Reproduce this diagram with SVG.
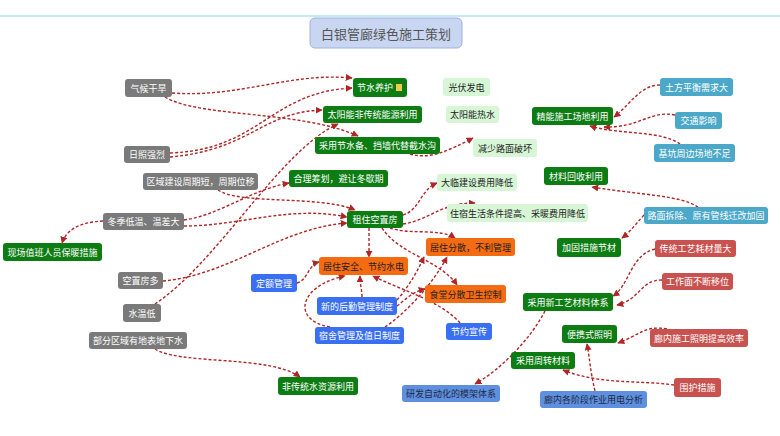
<svg xmlns="http://www.w3.org/2000/svg" width="780" height="436" viewBox="0 0 780 436">
<style>
text{font-family:"Noto Sans CJK SC","Noto Sans",sans-serif;font-size:9px;text-anchor:middle;dominant-baseline:central}
.g rect{fill:#7a7a7a}.g text{fill:#fff}
.dg rect{fill:#0d7d13}.dg text{fill:#fff}
.lg rect{fill:#d6f6d6}.lg text{fill:#222}
.tl rect{fill:#4ba8c8}.tl text{fill:#fff}
.rd rect{fill:#c8524f}.rd text{fill:#fff}
.or rect{fill:#f56b12}.or text{fill:#222}
.bl rect{fill:#3b6ff2}.bl text{fill:#fff}
.lb rect{fill:#5f90df}.lb text{fill:#1e2a44}
#connectors path{fill:none;stroke:#b02626;stroke-width:1.4;stroke-dasharray:3 2;marker-end:url(#ah)}
</style>
<defs>
<marker id="ah" viewBox="0 0 10 10" refX="9" refY="5" markerWidth="7" markerHeight="7" markerUnits="userSpaceOnUse" orient="auto">
<path d="M0,0 L10,5 L0,10 z" fill="#b02626"/>
</marker>
</defs>
<rect width="780" height="436" fill="#fff"/>
<line x1="0" y1="16" x2="780" y2="16" stroke="#8fd3e0" stroke-width="1"/>
<g id="title">
<rect x="310" y="18" width="152" height="30" rx="5" fill="#c9d6f2" stroke="#9eb2df"/>
<text x="386" y="33" style="font-size:13px;fill:#555">白银管廊绿色施工策划</text>
</g>
<g id="connectors">
<path d="M172,93 C240,98 290,72 352,78"/>
<path d="M165,97 C200,118 300,110 358,136"/>
<path d="M170,153 C260,150 270,92 352,88"/>
<path d="M170,157 C250,150 262,112 322,110"/>
<path d="M155,304 C220,260 280,150 338,124"/>
<path d="M218,190 C240,205 320,195 355,210"/>
<path d="M184,220 C220,215 250,190 289,183"/>
<path d="M184,226 C240,226 290,205 347,217"/>
<path d="M163,281 C230,275 280,228 347,223"/>
<path d="M103,221 C80,222 66,230 62,243"/>
<path d="M155,349 C180,365 270,355 300,377"/>
<path d="M403,215 C420,210 420,190 437,183"/>
<path d="M403,224 C430,220 440,203 475,203"/>
<path d="M390,228 C410,235 440,228 455,238"/>
<path d="M369,228 L369,257"/>
<path d="M382,228 C400,255 440,260 457,285"/>
<path d="M297,283 C308,280 308,265 319,262"/>
<path d="M362,297 C362,290 360,285 360,276"/>
<path d="M330,327 C290,320 300,285 345,276"/>
<path d="M460,323 C440,300 400,290 373,276"/>
<path d="M397,300 C410,285 418,270 424,257"/>
<path d="M385,327 C410,310 435,280 447,257"/>
<path d="M397,306 C405,300 412,292 425,289"/>
<path d="M410,154 C430,160 450,150 473,138"/>
<path d="M660,85 C640,85 630,105 614,117"/>
<path d="M675,115 C650,110 640,128 604,127"/>
<path d="M680,144 C660,130 620,135 590,126"/>
<path d="M698,207 C680,195 640,195 592,187"/>
<path d="M644,215 C635,225 630,232 622,238"/>
<path d="M655,249 C630,255 630,285 613,296"/>
<path d="M662,280 C640,280 640,300 617,305"/>
<path d="M667,329 C645,325 640,335 618,343"/>
<path d="M674,385 C640,380 600,385 563,370"/>
<path d="M595,391 C590,370 590,360 587,344"/>
<path d="M545,311 C530,340 500,370 475,384"/>
</g>
<g id="g1" class="g"><rect x="125" y="79" width="47" height="18" rx="3"/><text x="148.5" y="88">气候干旱</text></g>
<g id="g2" class="g"><rect x="124" y="146" width="46" height="17" rx="3"/><text x="147" y="154.5">日照强烈</text></g>
<g id="g3" class="g"><rect x="143" y="173" width="115" height="17" rx="3"/><text x="200.5" y="181.5">区域建设周期短，周期位移</text></g>
<g id="g4" class="g"><rect x="103" y="213" width="81" height="17" rx="3"/><text x="143.5" y="221.5">冬季低温、温差大</text></g>
<g id="g5" class="g"><rect x="118" y="272" width="45" height="17" rx="3"/><text x="140.5" y="280.5">空置房多</text></g>
<g id="g6" class="g"><rect x="123" y="304" width="38" height="18" rx="3"/><text x="142" y="313">水温低</text></g>
<g id="g7" class="g"><rect x="89" y="332" width="98" height="17" rx="3"/><text x="138" y="340.5">部分区域有地表地下水</text></g>
<g id="n1" class="dg"><rect x="3" y="243" width="99" height="18" rx="3"/><text x="52.5" y="252">现场值班人员保暖措施</text></g>
<g id="n2" class="dg"><rect x="353" y="78" width="54" height="19" rx="3"/><text x="375" y="87.5">节水养护</text><rect x="396" y="84" width="6" height="7" fill="#f2c94c" style="fill:#f2c94c"/></g>
<g id="n3" class="dg"><rect x="323" y="106" width="99" height="17" rx="3"/><text x="372.5" y="114.5">太阳能非传统能源利用</text></g>
<g id="n4" class="dg"><rect x="315" y="137" width="125" height="17" rx="3"/><text x="377.5" y="145.5">采用节水备、挡墙代替截水沟</text></g>
<g id="n5" class="dg"><rect x="289" y="170" width="99" height="17" rx="3"/><text x="338.5" y="178.5">合理筹划，避让冬歇期</text></g>
<g id="n6" class="dg"><rect x="347" y="211" width="56" height="17" rx="3"/><text x="375" y="219.5">租住空置房</text></g>
<g id="n7" class="dg"><rect x="532" y="107" width="81" height="18" rx="3"/><text x="572.5" y="116">精能施工场地利用</text></g>
<g id="n8" class="dg"><rect x="544" y="167" width="64" height="18" rx="3"/><text x="576" y="176">材料回收利用</text></g>
<g id="n9" class="dg"><rect x="557" y="238" width="64" height="19" rx="3"/><text x="589" y="247.5">加固措施节材</text></g>
<g id="n10" class="dg"><rect x="523" y="293" width="90" height="18" rx="3"/><text x="568" y="302">采用新工艺材料体系</text></g>
<g id="n11" class="dg"><rect x="562" y="325" width="55" height="18" rx="3"/><text x="589.5" y="334">便携式照明</text></g>
<g id="n12" class="dg"><rect x="511" y="352" width="64" height="17" rx="3"/><text x="543" y="360.5">采用周转材料</text></g>
<g id="n13" class="dg"><rect x="278" y="377" width="80" height="18" rx="3"/><text x="318" y="386">非传统水资源利用</text></g>
<g id="l1" class="lg"><rect x="443" y="78" width="47" height="18" rx="3"/><text x="466.5" y="87">光伏发电</text></g>
<g id="l2" class="lg"><rect x="446" y="106" width="53" height="17" rx="3"/><text x="472.5" y="114.5">太阳能热水</text></g>
<g id="l3" class="lg"><rect x="473" y="139" width="64" height="18" rx="3"/><text x="505" y="148">减少路面破坏</text></g>
<g id="l4" class="lg"><rect x="437" y="174" width="80" height="17" rx="3"/><text x="477" y="182.5">大临建设费用降低</text></g>
<g id="l5" class="lg"><rect x="447" y="204" width="141" height="18" rx="3"/><text x="517.5" y="213">住宿生活条件提高、采暖费用降低</text></g>
<g id="t1" class="tl"><rect x="660" y="78" width="73" height="18" rx="3"/><text x="696.5" y="87">土方平衡需求大</text></g>
<g id="t2" class="tl"><rect x="675" y="112" width="47" height="17" rx="3"/><text x="698.5" y="120.5">交通影响</text></g>
<g id="t3" class="tl"><rect x="654" y="144" width="81" height="18" rx="3"/><text x="694.5" y="153">基坑周边场地不足</text></g>
<g id="t4" class="tl"><rect x="644" y="207" width="124" height="17" rx="3"/><text x="706" y="215.5">路面拆除、原有管线迁改加固</text></g>
<g id="r1" class="rd"><rect x="655" y="240" width="81" height="17" rx="3"/><text x="695.5" y="248.5">传统工艺耗材量大</text></g>
<g id="r2" class="rd"><rect x="662" y="273" width="71" height="17" rx="3"/><text x="697.5" y="281.5">工作面不断移位</text></g>
<g id="r3" class="rd"><rect x="650" y="329" width="98" height="18" rx="3"/><text x="699" y="338">廊内施工照明提高效率</text></g>
<g id="r4" class="rd"><rect x="674" y="378" width="47" height="19" rx="3"/><text x="697.5" y="387.5">围护措施</text></g>
<g id="o1" class="or"><rect x="426" y="238" width="89" height="18" rx="3"/><text x="470.5" y="247">居住分散，不利管理</text></g>
<g id="o2" class="or"><rect x="319" y="257" width="89" height="18" rx="3"/><text x="363.5" y="266">居住安全、节约水电</text></g>
<g id="o3" class="or"><rect x="425" y="285" width="81" height="18" rx="3"/><text x="465.5" y="294">食堂分散卫生控制</text></g>
<g id="b1" class="bl"><rect x="251" y="274" width="46" height="18" rx="3"/><text x="274" y="283">定额管理</text></g>
<g id="b2" class="bl"><rect x="317" y="297" width="80" height="18" rx="3"/><text x="357" y="306">新的后勤管理制度</text></g>
<g id="b3" class="bl"><rect x="315" y="327" width="89" height="17" rx="3"/><text x="359.5" y="335.5">宿舍管理及值日制度</text></g>
<g id="b4" class="bl"><rect x="446" y="323" width="46" height="17" rx="3"/><text x="469" y="331.5">节约宣传</text></g>
<g id="lb1" class="lb"><rect x="402" y="385" width="98" height="17" rx="3"/><text x="451" y="393.5">研发自动化的模架体系</text></g>
<g id="lb2" class="lb"><rect x="540" y="391" width="107" height="17" rx="3"/><text x="593.5" y="399.5">廊内各阶段作业用电分析</text></g>
</svg>
